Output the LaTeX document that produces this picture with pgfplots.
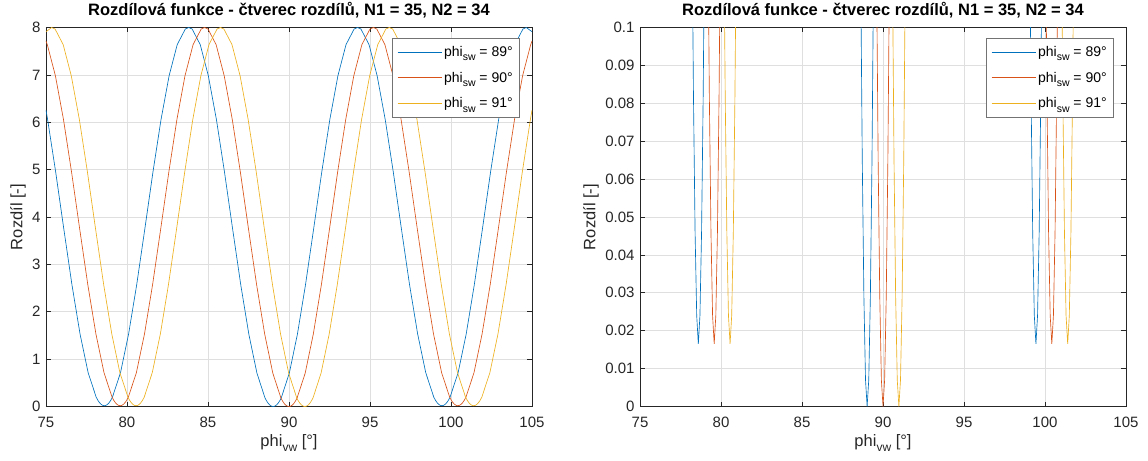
\documentclass[border=0pt]{standalone}
\usepackage{fontspec}
\setmainfont{Liberation Sans}
\usepackage{pgfplots}
\usepackage{pgfplotstable}
\pgfplotsset{compat=1.18}

\definecolor{mblue}{rgb}{0,0.447,0.741}
\definecolor{mred}{rgb}{0.85,0.325,0.098}
\definecolor{myellow}{rgb}{0.929,0.694,0.125}
\definecolor{maxis}{rgb}{0.15,0.15,0.15}
\definecolor{mgrid}{RGB}{223,223,223}

% MATLAB-like subscripts: larger and lower than \textsubscript
\newcommand\lsub[1]{\raisebox{-4.5bp}{\fontsize{10.5bp}{11bp}\selectfont #1}}
\newcommand\xsub[1]{\raisebox{-5bp}{\fontsize{12bp}{13bp}\selectfont #1}}

% phi_sw = 89
\pgfplotstableread{
x y
75.00 6.256
75.10 6.056
75.60 4.944
76.10 3.747
76.60 2.573
77.10 1.533
77.60 0.715
78.10 0.195
78.20 0.132
78.30 0.082
78.40 0.046
78.50 0.024
78.60 0.0165
78.70 0.024
78.80 0.046
78.90 0.082
79.00 0.132
79.10 0.195
79.60 0.715
80.10 1.533
80.60 2.573
81.10 3.747
81.60 4.944
82.10 6.056
82.60 6.982
83.10 7.639
83.60 7.968
83.81 8.000
84.02 7.968
84.52 7.639
85.02 6.982
85.52 6.056
86.02 4.944
86.52 3.747
87.02 2.573
87.52 1.528
88.02 0.705
88.52 0.180
88.62 0.116
88.72 0.065
88.82 0.029
88.92 0.007
89.02 0.000
89.12 0.007
89.22 0.029
89.32 0.065
89.42 0.116
89.52 0.180
90.02 0.705
90.52 1.528
91.02 2.573
91.52 3.747
92.02 4.944
92.52 6.056
93.02 6.982
93.52 7.639
94.02 7.968
94.23 8.000
94.44 7.968
94.94 7.639
95.44 6.982
95.94 6.056
96.44 4.944
96.94 3.747
97.44 2.573
97.94 1.533
98.44 0.715
98.94 0.195
99.04 0.132
99.14 0.082
99.24 0.046
99.34 0.024
99.44 0.0165
99.54 0.024
99.64 0.046
99.74 0.082
99.84 0.132
99.94 0.195
100.44 0.715
100.94 1.533
101.44 2.573
101.94 3.747
102.44 4.944
102.94 6.056
103.44 6.982
103.94 7.639
104.44 7.968
104.65 8.000
105.00 7.911
}\blueT

% phi_sw = 90
\pgfplotstableread{
x y
75.00 7.715
75.08 7.639
75.58 6.982
76.08 6.056
76.58 4.944
77.08 3.747
77.58 2.573
78.08 1.533
78.58 0.715
79.08 0.195
79.18 0.132
79.28 0.082
79.38 0.046
79.48 0.024
79.58 0.0165
79.68 0.024
79.78 0.046
79.88 0.082
79.98 0.132
80.08 0.195
80.58 0.715
81.08 1.533
81.58 2.573
82.08 3.747
82.58 4.944
83.08 6.056
83.58 6.982
84.08 7.639
84.58 7.968
84.79 8.000
85.00 7.968
85.50 7.639
86.00 6.982
86.50 6.056
87.00 4.944
87.50 3.747
88.00 2.573
88.50 1.528
89.00 0.705
89.50 0.180
89.60 0.116
89.70 0.065
89.80 0.029
89.90 0.007
90.00 0.000
90.10 0.007
90.20 0.029
90.30 0.065
90.40 0.116
90.50 0.180
91.00 0.705
91.50 1.528
92.00 2.573
92.50 3.747
93.00 4.944
93.50 6.056
94.00 6.982
94.50 7.639
95.00 7.968
95.21 8.000
95.42 7.968
95.92 7.639
96.42 6.982
96.92 6.056
97.42 4.944
97.92 3.747
98.42 2.573
98.92 1.533
99.42 0.715
99.92 0.195
100.02 0.132
100.12 0.082
100.22 0.046
100.32 0.024
100.42 0.0165
100.52 0.024
100.62 0.046
100.72 0.082
100.82 0.132
100.92 0.195
101.42 0.715
101.92 1.533
102.42 2.573
102.92 3.747
103.42 4.944
103.92 6.056
104.42 6.982
104.92 7.639
105.00 7.715
}\redT

% phi_sw = 91
\pgfplotstableread{
x y
75.00 7.911
75.35 8.000
75.56 7.968
76.06 7.639
76.56 6.982
77.06 6.056
77.56 4.944
78.06 3.747
78.56 2.573
79.06 1.533
79.56 0.715
80.06 0.195
80.16 0.132
80.26 0.082
80.36 0.046
80.46 0.024
80.56 0.0165
80.66 0.024
80.76 0.046
80.86 0.082
80.96 0.132
81.06 0.195
81.56 0.715
82.06 1.533
82.56 2.573
83.06 3.747
83.56 4.944
84.06 6.056
84.56 6.982
85.06 7.639
85.56 7.968
85.77 8.000
85.98 7.968
86.48 7.639
86.98 6.982
87.48 6.056
87.98 4.944
88.48 3.747
88.98 2.573
89.48 1.528
89.98 0.705
90.48 0.180
90.58 0.116
90.68 0.065
90.78 0.029
90.88 0.007
90.98 0.000
91.08 0.007
91.18 0.029
91.28 0.065
91.38 0.116
91.48 0.180
91.98 0.705
92.48 1.528
92.98 2.573
93.48 3.747
93.98 4.944
94.48 6.056
94.98 6.982
95.48 7.639
95.98 7.968
96.19 8.000
96.40 7.968
96.90 7.639
97.40 6.982
97.90 6.056
98.40 4.944
98.90 3.747
99.40 2.573
99.90 1.533
100.40 0.715
100.90 0.195
101.00 0.132
101.10 0.082
101.20 0.046
101.30 0.024
101.40 0.0165
101.50 0.024
101.60 0.046
101.70 0.082
101.80 0.132
101.90 0.195
102.40 0.715
102.90 1.533
103.40 2.573
103.90 3.747
104.40 4.944
104.90 6.056
105.00 6.256
}\yellowT

\pgfplotsset{
  mstyle/.style={
    scale only axis, width=486bp, height=379bp,
    anchor=south west,
    xmin=75, xmax=105, xtick={75,80,...,105},
    grid=major, major grid style={mgrid, line width=0.6bp},
    axis line style={maxis, line width=0.7bp},
    tick style={maxis, line width=0.7bp},
    major tick length=5bp, tick align=inside, tick pos=both,
    /pgf/number format/assume math mode=true,
    ticklabel style={font=\fontsize{15bp}{18bp}\selectfont, text=maxis},
    xticklabel style={yshift=-7bp},
    yticklabel style={xshift=-2bp},
    label style={font=\fontsize{16.5bp}{19bp}\selectfont, text=maxis},
    title style={font=\fontsize{16.5bp}{19bp}\selectfont\bfseries, text=black,
      anchor=base, at={(axis description cs:0.5,1.01715)}},
    title={Rozdílová funkce - čtverec rozdílů, N1 = 35, N2 = 34},
    xlabel={phi\xsub{vw} [°]},
    ylabel={Rozdíl [-]},
    xlabel style={at={(axis description cs:0.5,-0.1055)}, anchor=base},
    legend style={at={(1,1)}, anchor=north east, xshift=-12bp, yshift=-10.5bp,
      draw=black!55, line width=0.6bp, fill=white,
      font=\fontsize{14bp}{16bp}\selectfont, text=black,
      inner xsep=5bp, inner ysep=6bp, row sep=10bp},
    legend cell align=left,
    legend image code/.code={\draw[#1, line width=0.75bp] (0bp,0bp) -- (44bp,0bp);},
    every axis plot/.append style={line width=0.65bp},
  },
}

\begin{document}
\begin{tikzpicture}
\useasboundingbox (0,0) rectangle (1148bp,461bp);

\begin{axis}[mstyle, at={(46bp,54.5bp)},
    ymin=0, ymax=8, ytick={0,1,...,8},
    ylabel style={at={(axis description cs:-0.0576,0.5)}, anchor=center}]
\addplot[mblue] table {\blueT};
\addlegendentry{phi\lsub{sw} = 89°}
\addplot[mred] table {\redT};
\addlegendentry{phi\lsub{sw} = 90°}
\addplot[myellow] table {\yellowT};
\addlegendentry{phi\lsub{sw} = 91°}
\end{axis}

\begin{axis}[mstyle, at={(640bp,54.5bp)},
    ymin=0, ymax=0.1, scaled y ticks=false,
    ytick={0,0.01,0.02,0.03,0.04,0.05,0.06,0.07,0.08,0.09,0.1},
    yticklabels={0,0.01,0.02,0.03,0.04,0.05,0.06,0.07,0.08,0.09,0.1},
    restrict y to domain=-1:1, unbounded coords=jump,
    ylabel style={at={(axis description cs:-0.1008,0.5)}, anchor=center}]
\addplot[mblue] table {\blueT};
\addlegendentry{phi\lsub{sw} = 89°}
\addplot[mred] table {\redT};
\addlegendentry{phi\lsub{sw} = 90°}
\addplot[myellow] table {\yellowT};
\addlegendentry{phi\lsub{sw} = 91°}
\end{axis}
\end{tikzpicture}
\end{document}
